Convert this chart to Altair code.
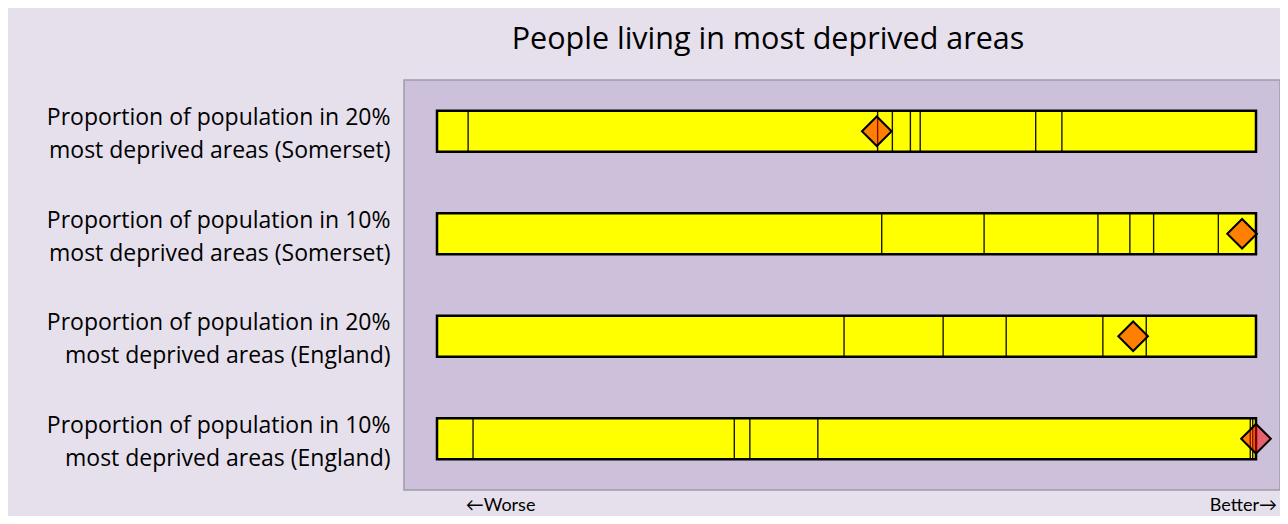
import altair as alt
import pandas as pd

# Indicator rows (label lines separated by '|')
indicators = [
    "Proportion of population in 20%|most deprived areas (Somerset)",
    "Proportion of population in 10%|most deprived areas (Somerset)",
    "Proportion of population in 20%|most deprived areas (England)",
    "Proportion of population in 10%|most deprived areas (England)",
]

# Spine divider positions (0 = worst end, 100 = best end of the spine)
dividers_r1 = [3.8, 53.8, 55.6, 57.8, 59.0, 73.1, 76.3]
dividers_r2 = [54.3, 66.8, 80.7, 84.6, 87.5, 95.4]
dividers_r3 = [49.7, 61.8, 69.5, 81.3, 86.6]
dividers_r4 = [4.4, 36.3, 38.2, 46.5, 99.3, 99.6]

# Area value marker position on each spine
markers = [53.7, 98.3, 85.0, 100.0]

# Spine extent
spine_start = [0, 0, 0, 0]
spine_end = [100, 100, 100, 100]

# Bottom annotation tick positions and labels
end_ticks = [7.7, 98.4]
end_labels = ["←Worse", "Better→"]

FONT = "Open Sans"

bars = pd.DataFrame({"ind": indicators, "x0": spine_start, "x1": spine_end})
divs = pd.DataFrame(
    [(indicators[0], v) for v in dividers_r1]
    + [(indicators[1], v) for v in dividers_r2]
    + [(indicators[2], v) for v in dividers_r3]
    + [(indicators[3], v) for v in dividers_r4],
    columns=["ind", "v"],
)
marks = pd.DataFrame({"ind": indicators, "v": markers})

xscale = alt.Scale(domain=[-4.03, 102.93], nice=False, zero=False)
yscale = alt.Scale(domain=indicators, paddingInner=0.6, paddingOuter=0.3)

label_expr = (
    "datum.value < 50 ? '" + end_labels[0] + "' : '" + end_labels[1] + "'"
)

xaxis = alt.Axis(
    values=end_ticks,
    labelExpr=label_expr,
    domain=False,
    ticks=False,
    grid=False,
    title=None,
    labelFont="Lato",
    labelFontSize=18,
    labelColor="#000000",
    labelPadding=6,
)
yaxis = alt.Axis(
    domain=False,
    ticks=False,
    grid=False,
    title=None,
    labelExpr="split(datum.label, '|')",
    labelFont=FONT,
    labelFontSize=23,
    labelLineHeight=33,
    labelColor="#000000",
    labelPadding=14,
    labelLimit=0,
    labelAlign="right",
    labelOffset=-13,
)

base_y = alt.Y("ind:N", scale=yscale, axis=yaxis, sort=indicators)

bar_layer = alt.Chart(bars).mark_bar(
    fill="#ffff00", stroke="#000000", strokeWidth=2.5
).encode(
    x=alt.X("x0:Q", scale=xscale, axis=xaxis),
    x2="x1:Q",
    y=base_y,
)

div_layer = alt.Chart(divs).mark_tick(
    color="#000000", thickness=1.4, size=41, opacity=0.9
).encode(
    x=alt.X("v:Q", scale=xscale),
    y=alt.Y("ind:N", scale=yscale, sort=indicators),
)

marker_layer = alt.Chart(marks).mark_point(
    shape="diamond", size=880, filled=True, fill="#ff0000", fillOpacity=0.5,
    stroke="#000000", strokeWidth=2, strokeOpacity=1, opacity=1
).encode(
    x=alt.X("v:Q", scale=xscale),
    y=alt.Y("ind:N", scale=yscale, sort=indicators),
)

chart = (
    alt.layer(bar_layer, div_layer, marker_layer)
    .properties(
        width=876,
        height=410,
        padding={"left": 396, "top": 72, "right": 0, "bottom": 26},
        autosize=alt.AutoSizeParams(type="none"),
        background="#e6e0ec",
        title=alt.TitleParams(
            "People living in most deprived areas",
            font=FONT,
            fontSize=30.5,
            fontWeight="normal",
            color="#000000",
            anchor="middle",
            frame="group",
            baseline="alphabetic",
            offset=1,
            dx=-74,
        ),
    )
    .configure_view(fill="#ccc0da", stroke="#a09aa8", strokeWidth=1.5)
)

chart.save("out.html", embed_options={"renderer": "svg", "actions": False})
